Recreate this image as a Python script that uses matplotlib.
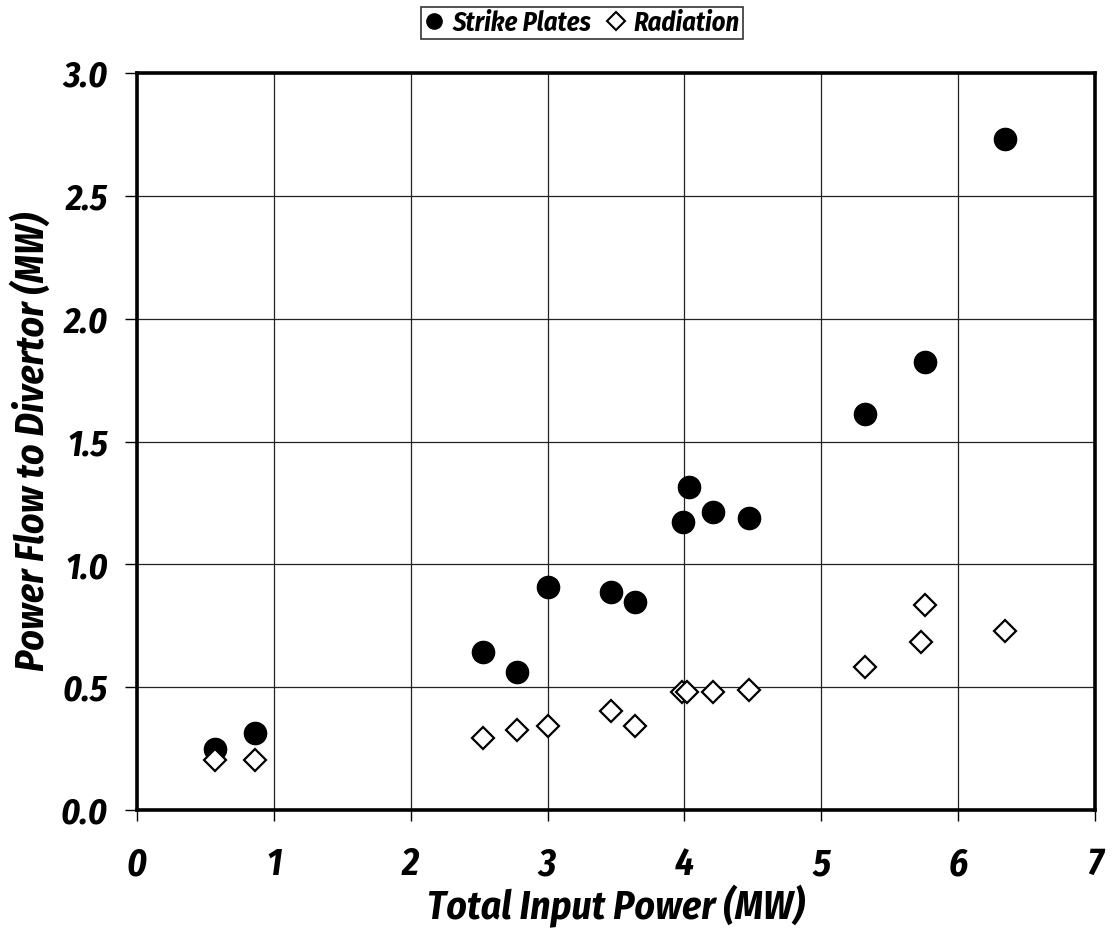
import matplotlib
matplotlib.use("Agg")
import matplotlib.pyplot as plt
from matplotlib.lines import Line2D

# Data
input_power = [0.57, 0.86, 2.53, 2.78, 3.00, 3.46, 3.64, 3.99, 4.03, 4.21, 4.47, 5.32, 5.76, 6.34]
strike_plates = [0.25, 0.313, 0.643, 0.562, 0.908, 0.887, 0.847, 1.172, 1.315, 1.213, 1.188, 1.61, 1.825, 2.73]

rad_power = [0.57, 0.86, 2.53, 2.78, 3.00, 3.46, 3.64, 3.98, 4.02, 4.21, 4.47, 5.32, 5.73, 5.76, 6.34]
radiation = [0.204, 0.204, 0.293, 0.326, 0.342, 0.403, 0.342, 0.48, 0.48, 0.48, 0.488, 0.582, 0.684, 0.834, 0.728]

x_ticks = [0, 1, 2, 3, 4, 5, 6, 7]
y_ticks = [0.0, 0.5, 1.0, 1.5, 2.0, 2.5, 3.0]

FAM = ["Fira Sans Condensed", "DejaVu Sans"]
font = dict(family=FAM, weight="bold", style="italic")

fig = plt.figure(figsize=(11.14, 9.42), dpi=100)
ax = fig.add_axes([137/1114, 1 - 810/942, (1095-137)/1114, (810-73)/942])

ax.plot(input_power, strike_plates, linestyle="none", marker="o", markersize=16,
        color="black", markeredgecolor="black", zorder=3, clip_on=False)
ax.plot(rad_power, radiation, linestyle="none", marker="D", markersize=11.5,
        markerfacecolor="white", markeredgecolor="black", markeredgewidth=1.6,
        zorder=3, clip_on=False)

ax.set_xlim(0, 7)
ax.set_ylim(0, 3.0)
ax.set_xticks(x_ticks)
ax.set_yticks(y_ticks)
ax.set_xticklabels([str(v) for v in x_ticks], fontsize=27, **font)
ax.set_yticklabels([f"{v:.1f}" for v in y_ticks], fontsize=26, **font)
ax.tick_params(axis="x", direction="out", length=8, width=1, pad=18)
ax.tick_params(axis="y", direction="out", length=9, width=1, pad=12)

ax.grid(True, color="#222222", linewidth=0.9)
ax.set_axisbelow(True)
for s in ax.spines.values():
    s.set_linewidth(2.6)
    s.set_color("black")

ax.set_xlabel("Total Input Power (MW)", fontsize=28.5, labelpad=1, **font)
ax.set_ylabel("Power Flow to Divertor (MW)", fontsize=28.5, labelpad=6, **font)

handles = [
    Line2D([], [], linestyle="none", marker="o", markersize=11, color="black"),
    Line2D([], [], linestyle="none", marker="D", markersize=9, markerfacecolor="white",
           markeredgecolor="black", markeredgewidth=1.5),
]
leg = fig.legend(handles, ["Strike Plates", "Radiation"], loc="center",
                 bbox_to_anchor=(582/1114, 1 - 23/942), ncol=2, frameon=True,
                 fancybox=False, shadow=False, edgecolor="black",
                 prop=dict(size=19, **font), handlelength=0.8,
                 handletextpad=0.3, columnspacing=0.5, borderpad=0.12,
                 borderaxespad=0)
leg.get_frame().set_linewidth(1.2)

fig.savefig("out.png", dpi=100)
